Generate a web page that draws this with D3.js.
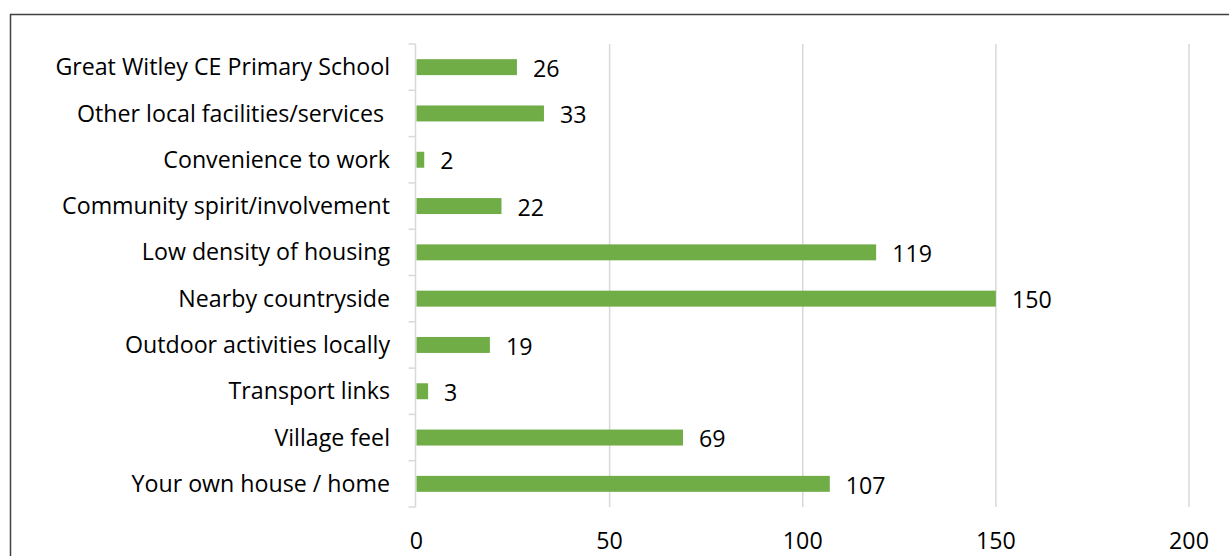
<!DOCTYPE html>
<html>
<head>
<meta charset="utf-8">
<script src="https://cdn.jsdelivr.net/npm/d3@7"></script>
<style>
  html, body { margin: 0; padding: 0; background: #fff; }
  svg { display: block; font-family: "Open Sans", Lato, sans-serif; }
  svg text { white-space: pre; }
</style>
</head>
<body>
<svg id="chart" width="1229" height="556"></svg>
<script>
// Reasons residents give for liking where they live
const categories = [
  "Great Witley CE Primary School",
  "Other local facilities/services ",
  "Convenience to work",
  "Community spirit/involvement",
  "Low density of housing",
  "Nearby countryside",
  "Outdoor activities locally",
  "Transport links",
  "Village feel",
  "Your own house / home"
];
const counts = [26, 33, 2, 22, 119, 150, 19, 3, 69, 107];
const tickValues = [0, 50, 100, 150, 200];

const svg = d3.select("#chart");
const W = 1229, H = 556;
const FS = 23.2;

// Chart frame
svg.append("rect")
  .attr("x", 10.5).attr("y", 14.5)
  .attr("width", W + 20).attr("height", H + 20)
  .attr("fill", "none").attr("stroke", "#404040").attr("stroke-width", 1.5);

const x = d3.scaleLinear().domain([0, 200]).range([416.5, 1189]);
const y = d3.scaleBand().domain(categories).range([44, 507]).paddingInner(0.655).paddingOuter(0.3275);
const yOuter = d3.scaleBand().domain(categories).range([44, 507]);

// Vertical gridlines
svg.append("g").selectAll("line")
  .data(tickValues.slice(1))
  .join("line")
  .attr("x1", d => x(d)).attr("x2", d => x(d))
  .attr("y1", 44).attr("y2", 507)
  .attr("stroke", "#d9d9d9").attr("stroke-width", 1.5);

// Category axis with tick marks between bands
const catAxis = svg.append("g");
catAxis.append("line")
  .attr("x1", x(0) - 1).attr("x2", x(0) - 1)
  .attr("y1", 44).attr("y2", 507)
  .attr("stroke", "#d9d9d9").attr("stroke-width", 1.5);
const boundaries = categories.map(c => yOuter(c)).concat([507]);
catAxis.selectAll("line.tick")
  .data(boundaries)
  .join("line")
  .attr("class", "tick")
  .attr("x1", x(0) - 8).attr("x2", x(0) - 1)
  .attr("y1", d => d).attr("y2", d => d)
  .attr("stroke", "#d9d9d9").attr("stroke-width", 1.5);

catAxis.selectAll("text")
  .data(categories)
  .join("text")
  .attr("x", 390)
  .attr("y", d => yOuter(d) + yOuter.bandwidth() / 2)
  .attr("dy", "0.35em")
  .attr("text-anchor", "end")
  .attr("font-size", FS)
  .attr("fill", "#000")
  .text(d => d);

// Bars
svg.append("g").selectAll("rect")
  .data(categories)
  .join("rect")
  .attr("x", x(0))
  .attr("y", d => y(d))
  .attr("width", (d, i) => x(counts[i]) - x(0))
  .attr("height", y.bandwidth())
  .attr("fill", "#70ad47");

// Value labels
svg.append("g").selectAll("text")
  .data(categories)
  .join("text")
  .attr("x", (d, i) => x(counts[i]) + 16)
  .attr("y", d => y(d) + y.bandwidth() / 2)
  .attr("dy", "0.42em")
  .attr("font-size", FS)
  .attr("fill", "#000")
  .text((d, i) => counts[i]);

// Value axis labels
svg.append("g").selectAll("text")
  .data(tickValues)
  .join("text")
  .attr("x", d => x(d))
  .attr("y", 549)
  .attr("text-anchor", "middle")
  .attr("font-size", FS)
  .attr("fill", "#000")
  .text(d => d);
</script>
</body>
</html>
